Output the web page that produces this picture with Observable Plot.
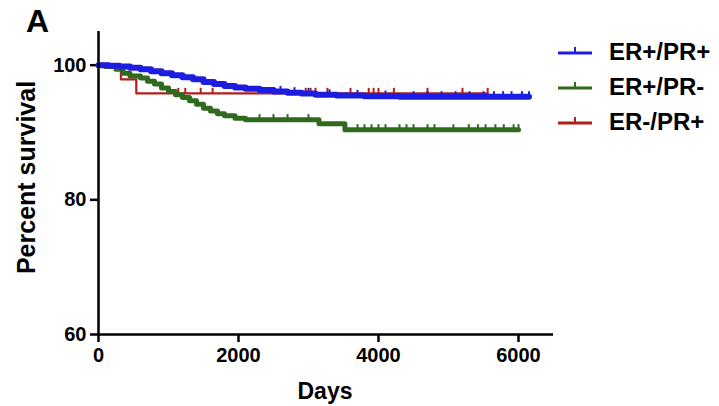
<!DOCTYPE html>
<html>
<head>
<meta charset="utf-8">
<script src="https://cdn.jsdelivr.net/npm/d3@7"></script>
<script src="https://cdn.jsdelivr.net/npm/@observablehq/plot@0.6"></script>
<style>
  html, body { margin: 0; padding: 0; background: #fff; }
  #wrap { position: relative; width: 719px; height: 406px; font-family: "Liberation Sans", Arial, Helvetica, sans-serif; font-weight: bold; color: #000; }
  #wrap svg g[aria-label*="axis"] path,
  #wrap svg g[aria-label*="axis"] line { stroke-width: 2.5px; stroke: #000; }
  .lbl { position: absolute; line-height: 1; white-space: nowrap; }
  .legend-row { position: absolute; left: 556px; height: 20px; }
  .legend-row svg { position: absolute; left: 0; top: 0; }
  .legend-row span { position: absolute; left: 53px; font-size: 24px; line-height: 1; }
</style>
</head>
<body>
<div id="wrap"></div>
<script>
// Kaplan–Meier survival by receptor status

const seriesNames = ["ER+/PR+", "ER+/PR-", "ER-/PR+"];
const seriesColors = ["#1d1ddf", "#2f6a1f", "#b21d1d"];

// ER+/PR+ : step points (days, percent surviving)
const bothDays = [0, 150, 300, 450, 600, 750, 900, 1050, 1200, 1350, 1500, 1650, 1800, 1950, 2100, 2300, 2500, 2700, 2900, 3100, 3400, 3800, 4300, 6150];
const bothSurv = [100, 99.9, 99.8, 99.6, 99.4, 99.1, 98.8, 98.5, 98.2, 97.9, 97.5, 97.2, 96.9, 96.7, 96.5, 96.3, 96.1, 95.9, 95.8, 95.6, 95.5, 95.4, 95.3, 95.3];
const bothCensored = [2600, 2800, 3000, 3300, 3700, 4100, 4500, 4700, 4900, 5100, 5300, 5500, 5650, 5780, 5900, 6050, 6150];

// ER+/PR-
const erOnlyDays = [0, 100, 250, 350, 450, 600, 700, 800, 900, 1000, 1100, 1200, 1300, 1400, 1500, 1600, 1700, 1800, 1950, 2100, 3150, 3520, 6000];
const erOnlySurv = [100, 99.8, 99.4, 98.8, 98.4, 98.1, 97.6, 97.2, 96.6, 96.1, 95.6, 95.2, 94.7, 94.2, 93.6, 93.2, 92.8, 92.5, 92.1, 91.9, 91.3, 90.4, 90.4];
const erOnlyCensored = [2300, 2500, 2700, 3000, 3700, 3800, 3900, 4000, 4100, 4300, 4400, 4500, 4700, 4800, 5070, 5290, 5420, 5530, 5670, 5790, 5930, 6000];

// ER-/PR+
const prOnlyDays = [0, 320, 540, 5560];
const prOnlySurv = [100, 97.9, 95.8, 95.8];
const prOnlyCensored = [1140, 1240, 1460, 1630, 2960, 3030, 3100, 3270, 3600, 3860, 3930, 4000, 4220, 4700, 5200, 5560];

const xTicks = [0, 2000, 4000, 6000];
const yTicks = [60, 80, 100];

// long-format tables built from the arrays above
function steps(name, days, surv) {
  return days.map((d, i) => ({group: name, day: d, surv: surv[i]}));
}
function censor(name, cdays, days, surv) {
  return cdays.map(c => {
    let k = 0;
    for (let i = 0; i < days.length; i++) if (days[i] <= c) k = i;
    return {group: name, day: c, surv: surv[k]};
  });
}
const series = [
  {name: seriesNames[0], color: seriesColors[0], width: 6, line: steps(seriesNames[0], bothDays, bothSurv), cens: censor(seriesNames[0], bothCensored, bothDays, bothSurv)},
  {name: seriesNames[1], color: seriesColors[1], width: 5, line: steps(seriesNames[1], erOnlyDays, erOnlySurv), cens: censor(seriesNames[1], erOnlyCensored, erOnlyDays, erOnlySurv)},
  {name: seriesNames[2], color: seriesColors[2], width: 2.2, line: steps(seriesNames[2], prOnlyDays, prOnlySurv), cens: censor(seriesNames[2], prOnlyCensored, prOnlyDays, prOnlySurv)}
];

// short upward tick used for censored observations
const censorTick = {
  draw(ctx, size) {
    const r = Math.sqrt(size / Math.PI);
    ctx.moveTo(0, 0);
    ctx.lineTo(0, -2 * r);
  }
};

// draw order: red under green under blue
const order = [2, 1, 0];
const marks = [];
for (const i of order) {
  const s = series[i];
  marks.push(Plot.line(s.line, {x: "day", y: "surv", curve: "step-after", stroke: s.color, strokeWidth: s.width}));
  marks.push(Plot.dot(s.cens, {x: "day", y: "surv", symbol: censorTick, r: 2.8, stroke: s.color, strokeWidth: 2, fill: "none"}));
}
marks.push(Plot.ruleY([60], {stroke: "#000", strokeWidth: 2.5}));
marks.push(Plot.ruleX([0], {stroke: "#000", strokeWidth: 2.5}));

const chart = Plot.plot({
  width: 719,
  height: 406,
  marginLeft: 98,
  marginRight: 166,
  marginTop: 31,
  marginBottom: 72,
  x: {domain: [0, 6500], ticks: xTicks, tickSize: 8, tickPadding: 5, tickFormat: d => String(d), label: null},
  y: {domain: [60, 105], ticks: yTicks, tickSize: 8, tickPadding: 4, tickFormat: d => String(d), label: null},
  style: {
    fontFamily: "'Liberation Sans', Arial, Helvetica, sans-serif",
    fontSize: "20px",
    fontWeight: "bold",
    color: "#000",
    background: "transparent",
    overflow: "visible"
  },
  marks
});

const wrap = document.getElementById("wrap");
wrap.appendChild(chart);
chart.style.position = "absolute";
chart.style.left = "0px";
chart.style.top = "0px";

function addLabel(text, css) {
  const d = document.createElement("div");
  d.className = "lbl";
  d.textContent = text;
  Object.assign(d.style, css);
  wrap.appendChild(d);
  return d;
}

// panel letter
addLabel("A", {left: "26px", top: "5px", fontSize: "32px"});
// x-axis title, centred under the axis
const days = addLabel("Days", {top: "380px", fontSize: "23px"});
days.style.left = (325 - days.offsetWidth / 2) + "px";
// y-axis title, rotated
const ylab = addLabel("Percent survival", {fontSize: "25px"});
const w = ylab.offsetWidth, h = ylab.offsetHeight;
ylab.style.left = (26 - w / 2) + "px";
ylab.style.top = (177 - h / 2) + "px";
ylab.style.transform = "rotate(-90deg)";

// legend
const rowTops = [43, 78, 113];
series.forEach((s, i) => {
  const row = document.createElement("div");
  row.className = "legend-row";
  row.style.top = (rowTops[i] - 3) + "px";
  row.innerHTML =
    `<svg width="40" height="20"><line x1="2" x2="36" y1="13" y2="13" stroke="${s.color}" stroke-width="3"/>` +
    `<line x1="19" x2="19" y1="13" y2="7" stroke="${s.color}" stroke-width="2"/></svg>` +
    `<span>${s.name}</span>`;
  wrap.appendChild(row);
});
</script>
</body>
</html>
